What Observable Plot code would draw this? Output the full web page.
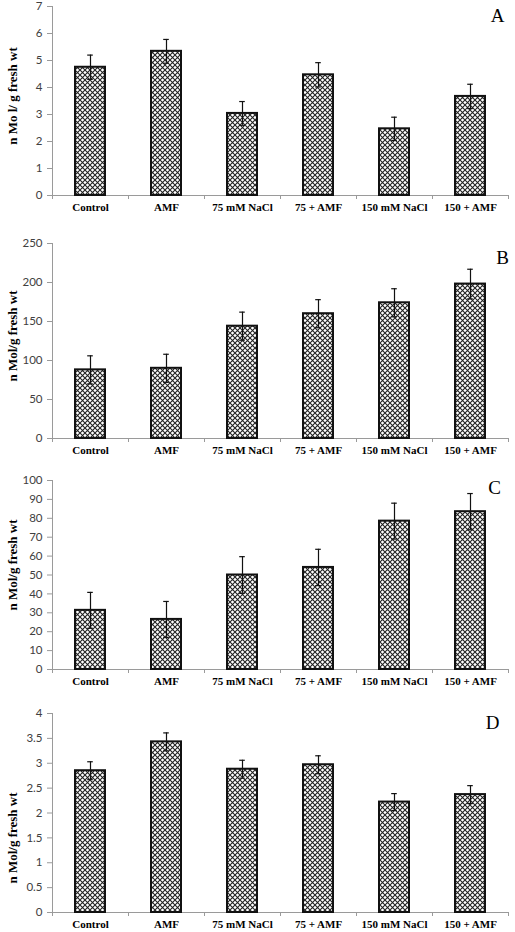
<!DOCTYPE html>
<html>
<head>
<meta charset="utf-8">
<script src="https://cdn.jsdelivr.net/npm/d3@7"></script>
<script src="https://cdn.jsdelivr.net/npm/@observablehq/plot@0.6"></script>
<style>
  html, body { margin: 0; padding: 0; background: #fff; }
  #chart svg { display: block; }
</style>
</head>
<body>
<svg width="0" height="0" style="position:absolute">
  <defs>
    <pattern id="hatch" patternUnits="userSpaceOnUse" width="5" height="5">
      <rect width="5" height="5" fill="#fff"></rect>
      <path d="M0,0L5,5M5,0L0,5" stroke="#222" stroke-width="1.1" fill="none"></path>
    </pattern>
  </defs>
</svg>
<div id="chart"></div>
<script>
// ---- data ----
const categories = ["Control", "AMF", "75 mM NaCl", "75 + AMF", "150 mM NaCl", "150 + AMF"];

const valuesA = [4.75, 5.34, 3.04, 4.47, 2.47, 3.67];
const errorsA = [0.45, 0.44, 0.44, 0.45, 0.43, 0.45];

const valuesB = [88, 90, 144, 160, 174, 198];
const errorsB = [18, 18, 18, 18, 18, 19];

const valuesC = [31.3, 26.5, 50, 54, 78.5, 83.5];
const errorsC = [9.5, 9.5, 9.7, 9.6, 9.5, 9.6];

const valuesD = [2.85, 3.43, 2.88, 2.97, 2.22, 2.37];
const errorsD = [0.18, 0.18, 0.18, 0.18, 0.17, 0.18];

const panelLetters = ["A", "B", "C", "D"];
const yLabels = ["n Mo l/ g fresh wt", "n Mol/g fresh wt", "n Mol/g fresh wt", "n Mol/g fresh wt"];
const yTicksA = [0, 1, 2, 3, 4, 5, 6, 7];
const yTicksB = [0, 50, 100, 150, 200, 250];
const yTicksC = [0, 10, 20, 30, 40, 50, 60, 70, 80, 90, 100];
const yTicksD = [0, 0.5, 1, 1.5, 2, 2.5, 3, 3.5, 4];

// ---- layout (styles) ----
const W = 515, ML = 52, MR = 7;
const panels = [
  {values: valuesA, errors: errorsA, ticks: yTicksA, height: 228, mt: 6,  mb: 33, labelDy: -5, letterDx: -11, letterDy: 9},
  {values: valuesB, errors: errorsB, ticks: yTicksB, height: 234, mt: 15, mb: 24, labelDy: -5, letterDx: -6,  letterDy: 14},
  {values: valuesC, errors: errorsC, ticks: yTicksC, height: 233, mt: 18, mb: 26, labelDy: -10, letterDx: -14, letterDy: 7},
  {values: valuesD, errors: errorsD, ticks: yTicksD, height: 237, mt: 18, mb: 20, labelDy: 25, letterDx: -16, letterDy: 9}
];

const step = (W - ML - MR) / categories.length;
const axisGray = "#9a9a9a";
const sansFont = "Lato, 'Liberation Sans', sans-serif";
const serifFont = "'Liberation Serif', 'Times New Roman', serif";

const root = document.getElementById("chart");

panels.forEach((p, i) => {
  const data = categories.map((c, j) => ({cat: c, value: p.values[j], err: p.errors[j]}));
  const yMax = p.ticks[p.ticks.length - 1];
  const last = categories[categories.length - 1];
  const chart = Plot.plot({
    width: W,
    height: p.height,
    marginTop: p.mt,
    marginBottom: p.mb,
    marginLeft: ML,
    marginRight: MR,
    style: {background: "white", overflow: "visible"},
    x: {domain: categories, paddingInner: 0.6, paddingOuter: 0.3, axis: null},
    y: {domain: [0, yMax], axis: null},
    marks: [
      // y axis ticks and labels
      Plot.axisY({ticks: p.ticks, tickSize: 5, tickFormat: () => "", color: axisGray, label: null}),
      Plot.axisY({ticks: p.ticks, tickSize: 0, tickPadding: 10, tickFormat: d => String(d),
                  color: "#404040", fontSize: 11.5, fontFamily: sansFont, label: null}),
      // axis lines
      Plot.ruleY([0], {stroke: axisGray}),
      Plot.ruleX([categories[0]], {x: d => d, y1: 0, y2: yMax, dx: -step / 2, stroke: axisGray}),
      // boundary ticks on x axis
      Plot.ruleX(categories, {x: d => d, y1: 0, y2: 0, insetBottom: -4, dx: -step / 2, stroke: axisGray}),
      Plot.ruleX([last], {x: d => d, y1: 0, y2: 0, insetBottom: -4, dx: step / 2, stroke: axisGray}),
      // bars
      Plot.barY(data, {x: "cat", y: "value", fill: "url(#hatch)", stroke: "#111", strokeWidth: 2}),
      // error bars
      Plot.ruleX(data, {x: "cat", y1: d => d.value - d.err, y2: d => d.value + d.err, stroke: "#111", strokeWidth: 1.2}),
      Plot.tickY(data, {x: "cat", y: d => d.value + d.err, insetLeft: 12.2, insetRight: 12.2, stroke: "#111", strokeWidth: 1.2}),
      Plot.tickY(data, {x: "cat", y: d => d.value - d.err, insetLeft: 12.2, insetRight: 12.2, stroke: "#111", strokeWidth: 1.2}),
      // x labels
      Plot.axisX({tickSize: 0, tickPadding: 8, color: "#000", fontSize: 11, fontFamily: serifFont, fontWeight: "bold", label: null}),
      // y axis title
      Plot.text([yLabels[i]], {frameAnchor: "left", rotate: -90, dx: -40, dy: p.labelDy, textAnchor: "middle",
                               fontSize: 13, fontWeight: "bold", fontFamily: serifFont, fill: "#000"}),
      // panel letter
      Plot.text([panelLetters[i]], {frameAnchor: "top-right", dx: p.letterDx, dy: p.letterDy, textAnchor: "middle",
                                    lineAnchor: "middle", fontSize: 19, fontFamily: serifFont, fill: "#000"})
    ]
  });
  root.appendChild(chart);
});
</script>
</body>
</html>
